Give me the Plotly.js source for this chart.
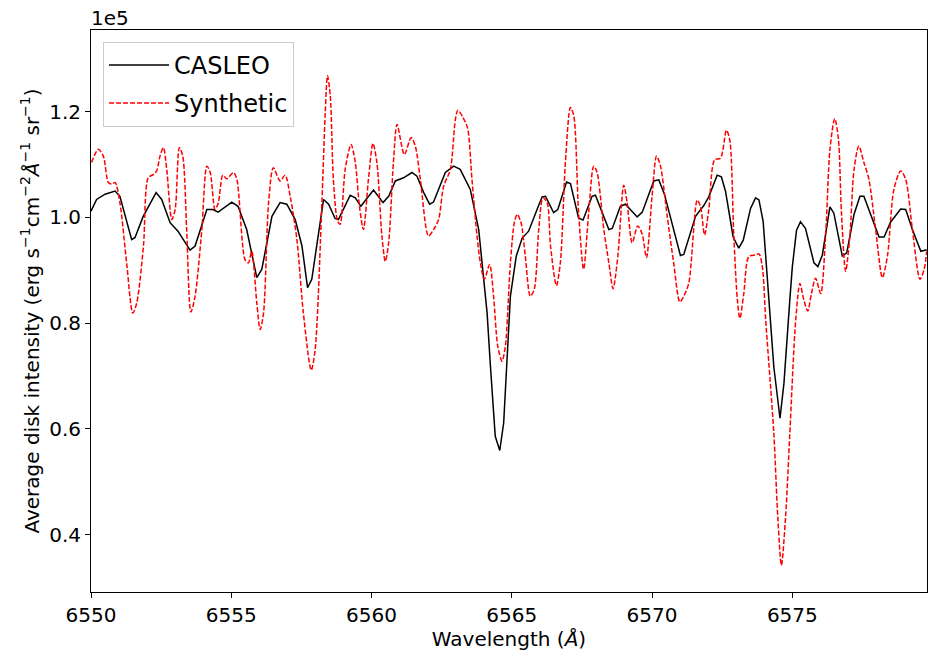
<!DOCTYPE html>
<html>
<head>
<meta charset="utf-8">
<script src="https://cdn.plot.ly/plotly-3.0.1.min.js"></script>
<style>html,body{margin:0;padding:0;background:#fff;}#chart{width:944px;height:654px;}</style>
</head>
<body>
<div id="chart"></div>
<script>
// Values in units of 1e5 erg s^-1 cm^-2 Å^-1 sr^-1
const casleoWavelength = [6550.00,6550.20,6550.50,6550.86,6551.03,6551.45,6551.57,6551.86,6552.32,6552.52,6552.82,6553.10,6553.53,6553.71,6554.13,6554.35,6554.53,6555.02,6555.24,6555.55,6555.91,6556.09,6556.45,6556.74,6556.98,6557.28,6557.52,6557.72,6557.87,6558.29,6558.47,6558.70,6558.82,6559.24,6559.42,6559.62,6560.07,6560.41,6560.61,6560.85,6561.14,6561.44,6561.62,6561.86,6562.07,6562.21,6562.63,6562.93,6563.16,6563.52,6563.82,6564.12,6564.23,6564.41,6564.57,6564.71,6564.95,6565.16,6565.37,6565.60,6565.90,6566.08,6566.20,6566.49,6566.64,6566.95,6567.09,6567.38,6567.54,6567.86,6567.98,6568.46,6568.58,6568.87,6569.05,6569.47,6569.65,6570.06,6570.24,6570.44,6571.01,6571.13,6571.55,6571.85,6572.02,6572.32,6572.47,6572.62,6572.89,6573.09,6573.25,6573.51,6573.69,6573.81,6573.96,6574.13,6574.34,6574.56,6574.70,6574.91,6575.00,6575.15,6575.29,6575.47,6575.77,6575.91,6576.07,6576.34,6576.48,6576.78,6576.94,6577.20,6577.41,6577.55,6577.79,6578.09,6578.27,6578.50,6578.86,6579.04,6579.28,6579.58,6579.79];
const casleoIntensity = [1.012,1.034,1.044,1.050,1.040,0.958,0.962,1.002,1.047,1.034,0.990,0.974,0.938,0.946,1.015,1.015,1.010,1.029,1.021,0.977,0.886,0.902,1.002,1.028,1.025,0.996,0.946,0.867,0.883,1.034,1.025,0.998,0.996,1.042,1.037,1.021,1.052,1.028,1.040,1.069,1.075,1.085,1.078,1.047,1.025,1.029,1.085,1.097,1.091,1.053,0.977,0.819,0.725,0.586,0.559,0.611,0.851,0.927,0.961,0.974,1.015,1.039,1.040,1.009,1.015,1.067,1.064,0.999,0.995,1.040,1.042,0.977,0.979,1.021,1.025,1.001,1.010,1.069,1.071,1.044,0.928,0.930,1.002,1.023,1.039,1.080,1.077,1.049,0.963,0.942,0.957,1.017,1.037,1.033,0.992,0.869,0.717,0.620,0.686,0.844,0.907,0.976,0.992,0.979,0.914,0.907,0.929,1.020,1.008,0.927,0.933,1.006,1.040,1.040,1.006,0.963,0.963,0.991,1.016,1.015,0.977,0.936,0.939];

const synthWavelength = [6550.02,6550.26,6550.44,6550.62,6550.74,6550.86,6551.03,6551.27,6551.49,6551.63,6551.87,6552.04,6552.22,6552.34,6552.46,6552.58,6552.70,6552.88,6553.00,6553.15,6553.27,6553.41,6553.56,6553.71,6553.95,6554.13,6554.25,6554.42,6554.54,6554.70,6554.84,6555.08,6555.20,6555.49,6555.61,6555.73,6555.91,6556.03,6556.15,6556.33,6556.50,6556.74,6556.92,6557.10,6557.34,6557.57,6557.85,6557.99,6558.23,6558.35,6558.43,6558.53,6558.64,6558.79,6558.88,6559.06,6559.27,6559.42,6559.57,6559.71,6559.89,6560.05,6560.19,6560.37,6560.49,6560.61,6560.78,6560.91,6561.17,6561.41,6561.56,6561.74,6562.03,6562.21,6562.39,6562.57,6562.81,6562.99,6563.08,6563.26,6563.42,6563.58,6563.76,6563.88,6564.02,6564.21,6564.35,6564.50,6564.65,6564.77,6564.95,6565.09,6565.19,6565.33,6565.48,6565.66,6565.80,6565.96,6566.11,6566.26,6566.38,6566.59,6566.73,6566.91,6567.09,6567.21,6567.38,6567.56,6567.74,6567.92,6568.04,6568.28,6568.46,6568.61,6568.78,6568.99,6569.11,6569.29,6569.49,6569.65,6569.80,6570.00,6570.16,6570.30,6570.54,6570.77,6570.99,6571.13,6571.31,6571.61,6571.73,6571.87,6572.02,6572.23,6572.44,6572.65,6572.77,6572.91,6573.04,6573.13,6573.27,6573.45,6573.69,6573.81,6573.93,6574.05,6574.34,6574.48,6574.61,6574.76,6574.91,6575.12,6575.27,6575.41,6575.55,6575.68,6575.83,6576.01,6576.19,6576.34,6576.51,6576.64,6576.75,6576.90,6577.05,6577.20,6577.37,6577.55,6577.73,6577.97,6578.21,6578.39,6578.62,6578.86,6579.04,6579.28,6579.55,6579.70,6579.79];
const synthIntensity = [1.104,1.129,1.116,1.066,1.063,1.066,1.028,0.914,0.819,0.838,0.946,1.075,1.081,1.088,1.116,1.132,1.091,0.996,1.015,1.132,1.116,0.977,0.821,0.851,0.977,1.097,1.085,1.015,1.028,1.080,1.073,1.085,1.072,0.920,0.914,0.936,0.838,0.788,0.819,1.028,1.094,1.069,1.080,1.040,0.958,0.819,0.711,0.750,1.028,1.198,1.268,1.230,1.072,0.993,0.987,1.091,1.138,1.104,1.021,0.977,1.072,1.140,1.104,0.965,0.917,0.952,1.104,1.176,1.119,1.151,1.135,1.072,0.965,0.977,0.996,1.059,1.091,1.186,1.203,1.189,1.170,1.072,0.965,0.914,0.883,0.911,0.851,0.756,0.728,0.756,0.914,0.990,1.006,0.990,0.927,0.851,0.864,0.977,1.037,1.028,0.946,0.871,0.914,1.104,1.208,1.192,1.009,0.902,1.009,1.097,1.085,0.977,0.914,0.865,0.927,1.061,1.028,0.952,0.984,0.968,0.924,1.040,1.116,1.097,1.002,0.914,0.840,0.851,0.876,1.033,1.020,0.967,1.014,1.109,1.112,1.165,1.146,0.970,0.844,0.809,0.856,0.926,0.929,0.931,0.907,0.806,0.591,0.434,0.342,0.434,0.591,0.806,0.875,0.844,0.823,0.856,0.885,0.856,0.970,1.128,1.187,1.150,1.009,0.898,0.965,1.091,1.135,1.104,1.072,0.977,0.886,0.927,1.053,1.088,1.072,0.977,0.883,0.902,0.936];

const xTicks = [6550, 6555, 6560, 6565, 6570, 6575];
const yTicks = [0.4, 0.6, 0.8, 1.0, 1.2];

const font = "DejaVu Sans, sans-serif";

const traces = [
  {x: casleoWavelength, y: casleoIntensity, type: 'scatter', mode: 'lines', name: 'CASLEO',
   legendgroup: 'a', line: {color: '#000000', width: 1.5}},
  {x: synthWavelength, y: synthIntensity, type: 'scatter', mode: 'lines', name: 'Synthetic',
   legendgroup: 'b', line: {color: '#ff0000', width: 1.5, dash: '5px,2px', shape: 'spline', smoothing: 0.8}}
];

const axisCommon = {
  showgrid: false, zeroline: false, showline: true, mirror: true,
  linecolor: '#000000', linewidth: 1, ticks: 'outside', ticklen: 5, tickwidth: 1,
  tickcolor: '#000000', tickfont: {family: font, size: 20, color: '#000000'}
};

const layout = {
  width: 944, height: 654,
  margin: {l: 91, r: 17, t: 30, b: 62},
  paper_bgcolor: '#ffffff', plot_bgcolor: '#ffffff',
  font: {family: font, color: '#000000'},
  showlegend: true,
  legend: {x: 0.0144, y: 0.979, xanchor: 'left', yanchor: 'top',
    bgcolor: 'rgba(255,255,255,0.8)', bordercolor: '#cccccc', borderwidth: 1,
    traceorder: 'grouped', tracegroupgap: 4, itemwidth: 60,
    font: {family: font, size: 24, color: '#000000'}},
  xaxis: Object.assign({}, axisCommon, {
    range: [6550, 6579.8], tickvals: xTicks, ticktext: xTicks.map(String),
    title: {text: 'Wavelength (<i>Å</i>)', font: {family: font, size: 20, color: '#000000'}, standoff: 4}
  }),
  yaxis: Object.assign({}, axisCommon, {
    range: [0.2913, 1.3546], tickvals: yTicks, ticktext: yTicks.map(v => v.toFixed(1)),
    title: {text: 'Average disk intensity (erg s<sup>−1</sup>cm<sup>−2</sup><i>Å</i><sup>−1</sup> sr<sup>−1</sup>)',
      font: {family: font, size: 20, color: '#000000'}, standoff: 4}
  }),
  annotations: [{
    text: '1e5', xref: 'paper', yref: 'paper', x: 0, y: 1, xanchor: 'left', yanchor: 'bottom',
    showarrow: false, font: {family: font, size: 20, color: '#000000'}, xshift: -2, yshift: -2
  }]
};

Plotly.newPlot('chart', traces, layout, {displayModeBar: false, staticPlot: true});
</script>
</body>
</html>
